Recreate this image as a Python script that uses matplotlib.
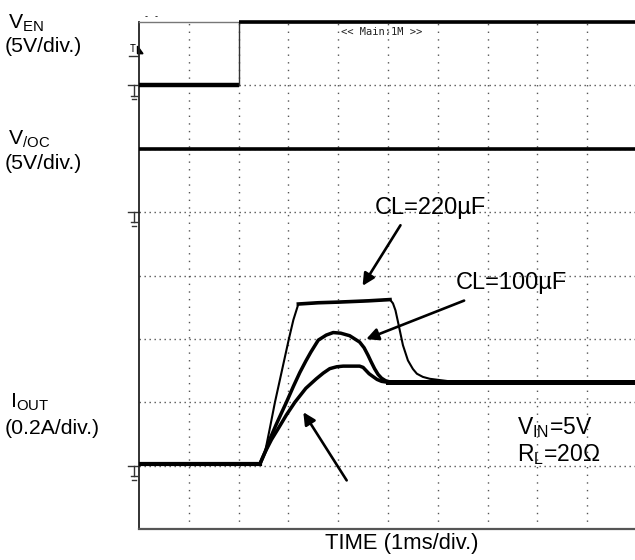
import matplotlib
matplotlib.use("Agg")
import matplotlib.pyplot as plt
import numpy as np

plt.rcParams['font.family'] = ['Liberation Sans', 'DejaVu Sans']
plt.rcParams['mathtext.fontset'] = 'custom'
plt.rcParams['mathtext.rm'] = 'Liberation Sans'
plt.rcParams['mathtext.it'] = 'Liberation Sans'

# time axis: 1 ms/div, 10 div
# channel grounds (in divisions from bottom) and scales
EN_GND, EN_SCALE = 7, 5.0      # V/div
OC_GND, OC_SCALE = 5, 5.0      # V/div
IO_GND, IO_SCALE = 1, 0.2      # A/div

en_t = [0, 2.0, 2.0, 10.0]
en_v = [0, 0, 5, 5]

oc_t = [0, 10.0]
oc_v = [5, 5]

# output current (A) for the three load capacitors
t_220 = [0, 2.43, 2.53, 2.63, 2.73, 2.87, 3.01, 3.10, 3.20, 3.6, 4.0, 4.6, 5.04,
         5.10, 5.15, 5.20, 5.30, 5.40, 5.50, 5.58, 5.70, 5.84, 6.24, 7.0, 10.0]
i_220 = [0.006, 0.006, 0.042, 0.12, 0.20, 0.30, 0.40, 0.46, 0.51, 0.514, 0.516, 0.520, 0.524,
         0.512, 0.49, 0.454, 0.38, 0.332, 0.305, 0.29, 0.28, 0.274, 0.266, 0.264, 0.264]

t_100 = [0, 2.43, 2.53, 2.64, 2.75, 2.86, 2.96, 3.10, 3.23, 3.35, 3.45, 3.60, 3.76, 3.90,
         4.05, 4.23, 4.33, 4.43, 4.52, 4.60, 4.66, 4.73, 4.80, 4.87, 4.95, 5.04, 6.0, 10.0]
i_100 = [0.006, 0.006, 0.042, 0.088, 0.128, 0.166, 0.200, 0.250, 0.294, 0.330, 0.358, 0.396, 0.412, 0.420,
         0.418, 0.410, 0.400, 0.390, 0.372, 0.348, 0.328, 0.306, 0.288, 0.276, 0.268, 0.264, 0.264, 0.264]

t_low = [0, 2.43, 2.53, 2.66, 2.80, 2.96, 3.13, 3.35, 3.56, 3.70, 3.83, 3.97, 4.10, 4.25, 4.43,
         4.50, 4.56, 4.62, 4.69, 4.78, 4.87, 5.04, 6.0, 10.0]
i_low = [0.006, 0.006, 0.042, 0.082, 0.118, 0.160, 0.200, 0.244, 0.274, 0.292, 0.306, 0.312, 0.314, 0.314, 0.314,
         0.310, 0.300, 0.290, 0.282, 0.272, 0.266, 0.262, 0.264, 0.264]


def to_div(vals, gnd, scale):
    return gnd + np.asarray(vals) / scale


fig = plt.figure(figsize=(6.35, 5.6), dpi=100)
ax = fig.add_axes([139 / 635, 31 / 560, 498 / 635, 507 / 560])
ax.set_xlim(0, 10)
ax.set_ylim(0, 8)

# dotted graticule
for x in range(1, 10):
    ax.plot([x, x], [0, 8], ls=(0, (1, 4.5)), color='#555555', lw=1.0, zorder=1)
for y in range(1, 8):
    ax.plot([0, 10], [y, y], ls=(0, (1, 2.6)), color='#555555', lw=1.0, zorder=1)

ax.set_xticks([])
ax.set_yticks([])
ax.spines['right'].set_visible(False)
ax.spines['left'].set_color('#222222')
ax.spines['bottom'].set_color('#555555')
ax.spines['top'].set_color('#777777')
ax.spines['left'].set_linewidth(1.3)
ax.spines['bottom'].set_linewidth(1.6)
ax.spines['top'].set_linewidth(1.0)

# traces
ax.plot(en_t[:2], to_div(en_v[:2], EN_GND, EN_SCALE), color='black', lw=3.2, zorder=3,
        solid_capstyle='butt')
ax.plot(en_t[1:3], to_div(en_v[1:3], EN_GND, EN_SCALE), color='#333333', lw=1.0, zorder=3)
ax.plot(en_t[2:], to_div(en_v[2:], EN_GND, EN_SCALE), color='black', lw=2.6, zorder=3,
        solid_capstyle='butt', clip_on=False)
ax.plot(oc_t, to_div(oc_v, OC_GND, OC_SCALE), color='black', lw=2.6, zorder=3)

ax.plot(t_220, to_div(i_220, IO_GND, IO_SCALE), color='black', lw=1.5, zorder=3)
# flat top of the 220uF trace is drawn heavier (noisy plateau)
ax.plot(t_220[8:13], to_div(i_220[8:13], IO_GND, IO_SCALE), color='black', lw=2.6, zorder=3)
ax.plot(t_100, to_div(i_100, IO_GND, IO_SCALE), color='black', lw=2.5, zorder=3)
ax.plot(t_low, to_div(i_low, IO_GND, IO_SCALE), color='black', lw=2.5, zorder=3)
ax.plot([5.0, 10.0], to_div([0.264, 0.264], IO_GND, IO_SCALE), color='black', lw=3.6, zorder=3)
ax.plot([0, 2.43], to_div([0.006, 0.006], IO_GND, IO_SCALE), color='black', lw=3.0, zorder=3)

# ground markers and trigger marker
for g in [EN_GND, OC_GND, IO_GND]:
    ax.plot([-0.22, 0.0], [g, g], color='#333333', lw=1.0, clip_on=False)
    ax.plot([-0.11, -0.11], [g, g - 0.16], color='#333333', lw=1.0, clip_on=False)
    ax.plot([-0.17, -0.05], [g - 0.16, g - 0.16], color='#333333', lw=1.0, clip_on=False)
    ax.plot([-0.15, -0.07], [g - 0.22, g - 0.22], color='#333333', lw=1.0, clip_on=False)
ax.plot([-0.2, -0.02], [7.47, 7.47], color='#333333', lw=1.0, clip_on=False)
ax.text(-0.18, 7.49, 'T', fontsize=7, family='DejaVu Sans Mono', ha='left', va='bottom')
ax.fill([-0.03, 0.08, -0.03], [7.62, 7.5, 7.5], color='black', clip_on=False)
ax.text(0.25, 8.02, '- -', fontsize=6, family='DejaVu Sans Mono', ha='center', va='bottom')
ax.text(4.88, 7.85, '<< Main:1M >>', fontsize=7.5, family='DejaVu Sans Mono',
        ha='center', va='center', color='#222222')

# annotations
tfs = 17
aprops = dict(arrowstyle='-|>', color='black', lw=1.9, mutation_scale=18)
ax.text(5.86, 5.06, 'CL=220µF', fontsize=tfs, ha='center', va='center')
ax.annotate('', xy=(4.46, 3.80), xytext=(5.28, 4.83), arrowprops=aprops)
ax.text(7.47, 3.88, 'CL=100µF', fontsize=tfs, ha='center', va='center')
ax.annotate('', xy=(4.51, 2.98), xytext=(6.58, 3.62), arrowprops=aprops)
ax.annotate('', xy=(3.27, 1.88), xytext=(4.2, 0.73), arrowprops=aprops)

ax.text(7.6, 1.6, r'V$_{\mathrm{IN}}$=5V', fontsize=16.5, ha='left', va='center')
ax.text(7.6, 1.17, r'R$_{\mathrm{L}}$=20Ω', fontsize=16.5, ha='left', va='center')

# channel labels
lfs = 15.3
fig.text(8 / 635, 1 - 23 / 560, r'V$_{\mathrm{EN}}$', fontsize=lfs, ha='left', va='center')
fig.text(5 / 635, 1 - 47 / 560, '(5V/div.)', fontsize=lfs, ha='left', va='center')
fig.text(8 / 635, 1 - 139 / 560, r'V$_{\mathrm{/OC}}$', fontsize=lfs, ha='left', va='center')
fig.text(5 / 635, 1 - 163 / 560, '(5V/div.)', fontsize=lfs, ha='left', va='center')
fig.text(10 / 635, 1 - 402 / 560, r'I$_{\mathrm{OUT}}$', fontsize=lfs, ha='left', va='center')
fig.text(5 / 635, 1 - 428 / 560, '(0.2A/div.)', fontsize=lfs, ha='left', va='center')

fig.text(402 / 635, 1 - 544 / 560, 'TIME (1ms/div.)', fontsize=15.8, ha='center', va='center')

fig.savefig('out.png', dpi=100)
